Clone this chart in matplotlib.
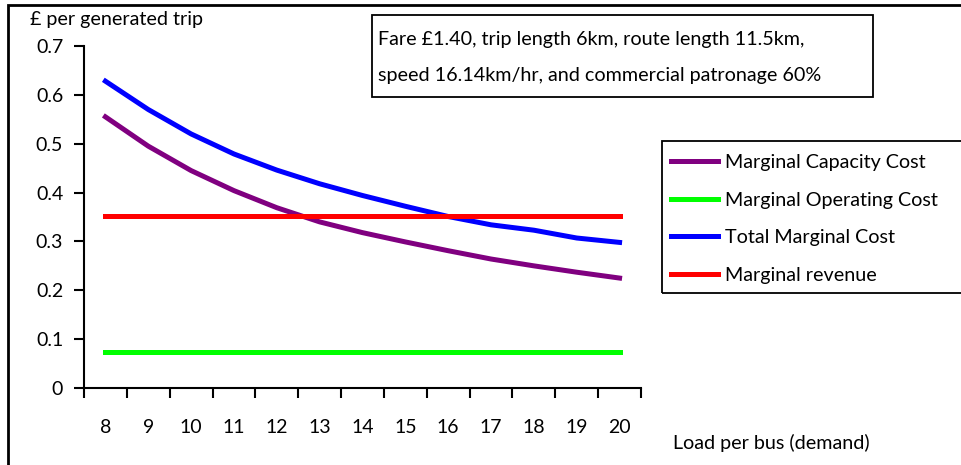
import numpy as np
import matplotlib.pyplot as plt
from matplotlib.patches import Rectangle

plt.rcParams['font.family'] = ['Lato', 'DejaVu Sans']

loads = ['8', '9', '10', '11', '12', '13', '14', '15', '16', '17', '18', '19', '20']
capacity_cost = [0.555, 0.495, 0.445, 0.404, 0.369, 0.340, 0.318, 0.299, 0.281, 0.264, 0.250, 0.237, 0.225]
operating_cost = [0.073] * 13
total_cost = [0.628, 0.570, 0.520, 0.479, 0.446, 0.418, 0.394, 0.372, 0.351, 0.334, 0.323, 0.307, 0.298]
revenue = [0.352] * 13

W, H = 962, 465
fs = 14.2
fig = plt.figure(figsize=(W / 100, H / 100), dpi=100)
ax = fig.add_axes([84 / W, 1 - 388 / H, (641 - 84) / W, (388 - 46) / H])

x = np.arange(len(loads))
lw = 3.6
ax.plot(x, capacity_cost, color='#800080', lw=lw, label='Marginal Capacity Cost')
ax.plot(x, operating_cost, color='#00ff00', lw=lw, label='Marginal Operating Cost')
ax.plot(x, total_cost, color='#0000ff', lw=lw, label='Total Marginal Cost')
ax.plot(x, revenue, color='#ff0000', lw=lw, label='Marginal revenue')

ax.set_xlim(-0.5, len(loads) - 0.5)
ax.set_ylim(0, 0.7)
ax.set_yticks(np.arange(0, 0.71, 0.1))
ax.set_yticklabels(['0', '0.1', '0.2', '0.3', '0.4', '0.5', '0.6', '0.7'])
ax.set_xticks(np.arange(-0.5, len(loads), 1.0))
ax.set_xticklabels([])
ax.set_xticks(x, minor=True)
ax.set_xticklabels(loads, minor=True)
ax.tick_params(axis='x', which='major', length=7, width=1.5, direction='out')
ax.tick_params(axis='x', which='minor', length=0, pad=22, labelsize=14)
ax.tick_params(axis='y', length=7, width=1.5, direction='out', pad=8, labelsize=14)
for s in ['top', 'right']:
    ax.spines[s].set_visible(False)
for s in ['left', 'bottom']:
    ax.spines[s].set_linewidth(1.5)

fig.text(30 / W, 1 - 20 / H, '£ per generated trip', fontsize=fs, va='center', ha='left')
fig.text(673 / W, 1 - 443 / H, 'Load per bus (demand)', fontsize=fs, va='center', ha='left')

# note box
fig.patches.append(Rectangle((372 / W, 1 - 97 / H), (873 - 372) / W, (97 - 15) / H,
                             transform=fig.transFigure, fill=False, lw=1.3, ec='black'))
fig.text(378 / W, 1 - 40 / H, 'Fare £1.40, trip length 6km, route length 11.5km,', fontsize=fs, va='center')
fig.text(378 / W, 1 - 75 / H, 'speed 16.14km/hr, and commercial patronage 60%', fontsize=fs, va='center')

# legend box running off the right edge
fig.patches.append(Rectangle((662 / W, 1 - 293 / H), (980 - 662) / W, (293 - 141) / H,
                             transform=fig.transFigure, fill=False, lw=1.3, ec='black'))
fig.legend(loc='upper left', bbox_to_anchor=(665 / W, 1 - 148 / H), frameon=False,
           fontsize=fs, handlelength=2.4, handletextpad=0.35, labelspacing=1.05,
           borderaxespad=0, borderpad=0.3)

# outer frame, cropped at right and bottom
fig.patches.append(Rectangle((8 / W, -0.1), 1.2, 1 - 5 / H + 0.1,
                             transform=fig.transFigure, fill=False, lw=2, ec='black'))

fig.savefig('out.png', dpi=100)
